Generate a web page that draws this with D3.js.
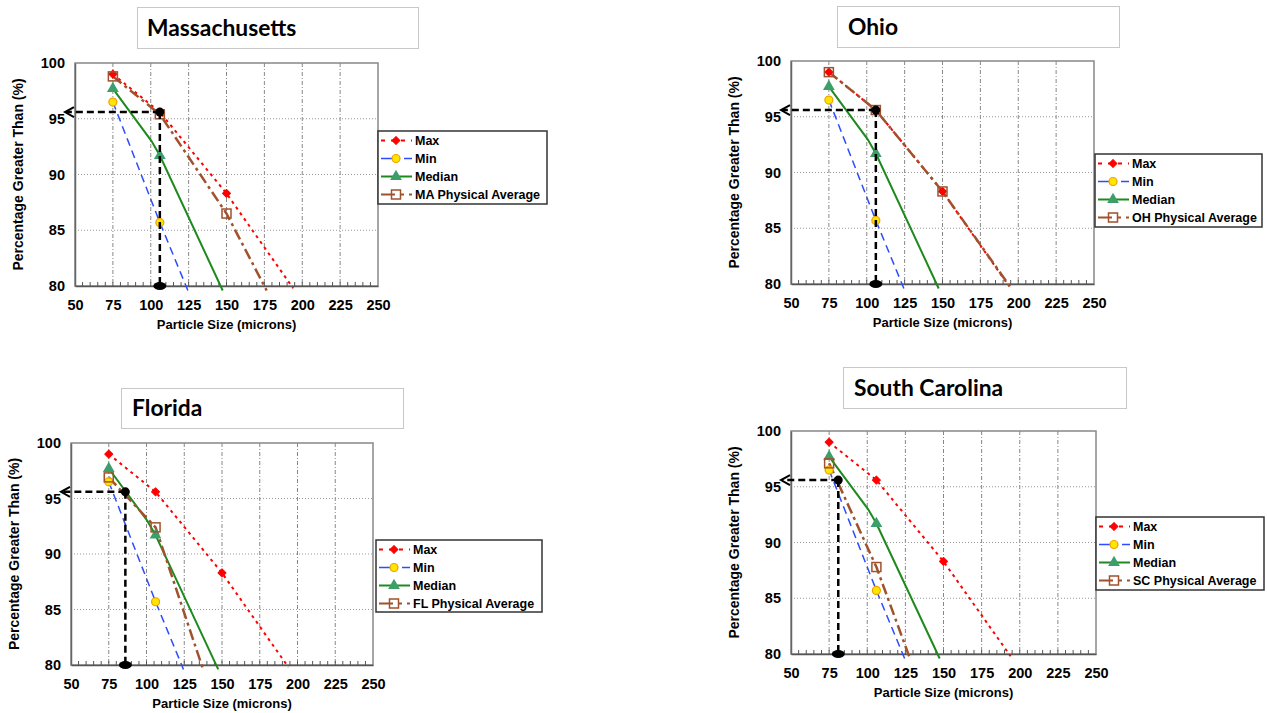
<!DOCTYPE html>
<html><head><meta charset="utf-8">
<script src="https://cdn.jsdelivr.net/npm/d3@7"></script>
<style>body{margin:0;background:#fff}svg{display:block}</style>
</head><body><svg id="c" width="1267" height="713"></svg>
<script>
// ---- data ----
const xTicks = [50, 75, 100, 125, 150, 175, 200, 225, 250];
const yTicks = [80, 85, 90, 95, 100];
const xLabel = "Particle Size (microns)";
const yLabel = "Percentage Greater Than (%)";
const seriesNames = ["Max", "Min", "Median"];

const maxX = [75, 106, 150, 194];
const maxY = [99.0, 95.6, 88.3, 79.8];
const maxMarks = [0, 1, 2];
const minX = [75, 106, 124.5];
const minY = [96.5, 85.7, 79.6];
const minMarks = [0, 1];
const medX = [75, 100.5, 106, 147.5];
const medY = [97.7, 93.0, 91.7, 79.6];
const medMarks = [0, 2];

const states = ["Massachusetts", "Ohio", "Florida", "South Carolina"];
const avgNames = ["MA Physical Average", "OH Physical Average", "FL Physical Average", "SC Physical Average"];
const avgX = [[75, 106, 150, 176.5], [75, 106, 150, 196], [75, 106, 137.5], [75, 106, 128]];
const avgY = [[98.8, 95.4, 86.5, 79.6], [99.0, 95.6, 88.3, 79.5], [96.9, 92.4, 79.6], [97.1, 87.8, 79.6]];
const avgMarks = [[0, 1, 2], [0, 1, 2], [0, 1], [0, 1]];
const targetX = [106, 106, 86, 81];
const targetY = [95.6, 95.6, 95.6, 95.6];

// ---- layout ----
const plots = [
  {l: 75, t: 63, r: 378, b: 286},
  {l: 791, t: 61, r: 1094, b: 284},
  {l: 71, t: 443, r: 373, b: 665},
  {l: 791, t: 431, r: 1096, b: 654}
];
const titleBoxes = [
  {x: 137, y: 7, w: 281, h: 41, tx: 147},
  {x: 837, y: 6, w: 282, h: 41, tx: 848},
  {x: 121, y: 388, w: 282, h: 40, tx: 132},
  {x: 843, y: 367, w: 283, h: 41, tx: 854}
];
const legends = [
  {x: 378, y: 131, w: 169, h: 73},
  {x: 1095, y: 154, w: 167, h: 73},
  {x: 376, y: 540, w: 166, h: 72},
  {x: 1096, y: 517, w: 168, h: 73}
];

const svg = d3.select("#c");
const FONT = "'Liberation Sans', Arial, sans-serif";

const styles = {
  max: {color: "#ff0000", dash: "3,4", w: 2},
  min: {color: "#2b4dff", dash: "8,5", w: 1.5},
  med: {color: "#1e8a1e", dash: null, w: 2},
  avg: {color: "#a0522d", dash: "11,4,3,4", w: 2.5}
};

function marker(g, type, x, y) {
  if (type === "max") {
    g.append("path").attr("d", d3.symbol(d3.symbolSquare, 32)()).attr("transform", `translate(${x},${y}) rotate(45)`)
      .attr("fill", "#ff0000").attr("stroke", "#ff0000").attr("stroke-width", 1).attr("stroke-linejoin", "round");
  } else if (type === "min") {
    g.append("circle").attr("cx", x).attr("cy", y).attr("r", 4).attr("fill", "#ffe600").attr("stroke", "#f0a000").attr("stroke-width", 1.2);
  } else if (type === "med") {
    g.append("path").attr("d", d3.symbol(d3.symbolTriangle, 60)()).attr("transform", `translate(${x},${y})`)
      .attr("fill", "#3c9e6a");
  } else {
    g.append("rect").attr("x", x - 4.5).attr("y", y - 4.5).attr("width", 9).attr("height", 9)
      .attr("fill", "none").attr("stroke", "#a0522d").attr("stroke-width", 1.5);
  }
}

states.forEach((st, i) => {
  const p = plots[i];
  const g = svg.append("g");
  const x = d3.scaleLinear().domain([50, 250]).range([p.l, p.r]);
  const y = d3.scaleLinear().domain([80, 100]).range([p.b, p.t]);

  // title box
  const tb = titleBoxes[i];
  g.append("rect").attr("x", tb.x + 0.5).attr("y", tb.y + 0.5).attr("width", tb.w).attr("height", tb.h)
    .attr("fill", "#fff").attr("stroke", "#c8c8c8").attr("stroke-width", 1);
  g.append("text").attr("x", tb.tx).attr("y", tb.y + tb.h / 2 + 8).text(st)
    .attr("font-family", "Lato, 'Open Sans', sans-serif").attr("font-weight", "bold").attr("font-size", 22.8).attr("fill", "#000");

  // gridlines
  xTicks.slice(1, -1).forEach(v => {
    g.append("line").attr("x1", x(v)).attr("x2", x(v)).attr("y1", p.t).attr("y2", p.b)
      .attr("stroke", "#888").attr("stroke-width", 1).attr("stroke-dasharray", "4,2,1,2");
  });
  yTicks.slice(1, -1).forEach(v => {
    g.append("line").attr("x1", p.l).attr("x2", p.r).attr("y1", y(v)).attr("y2", y(v))
      .attr("stroke", "#999").attr("stroke-width", 1).attr("stroke-dasharray", "1,2");
  });
  // frame
  g.append("rect").attr("x", p.l).attr("y", p.t).attr("width", p.r - p.l).attr("height", p.b - p.t)
    .attr("fill", "none").attr("stroke", "#888").attr("stroke-width", 1.5);

  // axes
  const xa = g.append("g").attr("transform", `translate(0,${p.b})`)
    .call(d3.axisBottom(x).tickValues(xTicks).tickSize(0).tickPadding(14));
  xa.select(".domain").attr("stroke", "#555").attr("stroke-width", 1.5);
  xa.selectAll("text").attr("font-family", FONT).attr("font-weight", "bold").attr("font-size", 14.5).attr("fill", "#000");
  // minor ticks
  const minor = d3.range(55, 250, 5);
  g.selectAll(null).data(minor).enter().append("line")
    .attr("x1", d => x(d)).attr("x2", d => x(d)).attr("y1", p.b).attr("y2", p.b - 4)
    .attr("stroke", "#555").attr("stroke-width", 1);

  const ya = g.append("g").attr("transform", `translate(${p.l},0)`)
    .call(d3.axisLeft(y).tickValues(yTicks).tickSize(0).tickPadding(10));
  ya.select(".domain").attr("stroke", "#666").attr("stroke-width", 1.5);
  ya.selectAll("text").attr("font-family", FONT).attr("font-weight", "bold").attr("font-size", 14.5).attr("fill", "#000");

  g.append("text").attr("x", (p.l + p.r) / 2).attr("y", p.b + 43).attr("text-anchor", "middle").text(xLabel)
    .attr("font-family", FONT).attr("font-weight", "bold").attr("font-size", 13);
  g.append("text").attr("transform", `translate(${p.l - 57},${(p.t + p.b) / 2}) rotate(-90)`).attr("text-anchor", "middle")
    .text(yLabel).attr("font-family", FONT).attr("font-weight", "bold").attr("font-size", 14).attr("dy", "0.35em");

  // series
  const series = [
    {k: "max", xs: maxX, ys: maxY, m: maxMarks},
    {k: "min", xs: minX, ys: minY, m: minMarks},
    {k: "med", xs: medX, ys: medY, m: medMarks},
    {k: "avg", xs: avgX[i], ys: avgY[i], m: avgMarks[i]}
  ];
  const line = d3.line().x(d => x(d[0])).y(d => y(d[1]));
  series.forEach(s => {
    const st = styles[s.k];
    const pts = s.xs.map((v, j) => [v, s.ys[j]]);
    g.append("path").attr("d", line(pts)).attr("fill", "none").attr("stroke", st.color)
      .attr("stroke-width", st.w).attr("stroke-dasharray", st.dash);
  });
  series.forEach(s => {
    s.m.forEach(j => marker(g, s.k, x(s.xs[j]), y(s.ys[j])));
  });

  // target indicator
  const tx = x(targetX[i]), ty = y(targetY[i]);
  g.append("line").attr("x1", tx).attr("x2", p.l - 9).attr("y1", ty).attr("y2", ty)
    .attr("stroke", "#000").attr("stroke-width", 2.5).attr("stroke-dasharray", "7,4");
  g.append("path").attr("d", `M${p.l - 1},${ty - 5} L${p.l - 10},${ty} L${p.l - 1},${ty + 5}`)
    .attr("fill", "none").attr("stroke", "#000").attr("stroke-width", 2);
  g.append("line").attr("x1", tx).attr("x2", tx).attr("y1", ty).attr("y2", y(80))
    .attr("stroke", "#000").attr("stroke-width", 2.5).attr("stroke-dasharray", "7,4");
  g.append("circle").attr("cx", tx).attr("cy", ty).attr("r", 4.5).attr("fill", "#000");
  g.append("ellipse").attr("cx", tx).attr("cy", y(80)).attr("rx", 6.5).attr("ry", 4).attr("fill", "#000");

  // legend
  const L = legends[i];
  g.append("rect").attr("x", L.x).attr("y", L.y).attr("width", L.w).attr("height", L.h)
    .attr("fill", "#fff").attr("stroke", "#333").attr("stroke-width", 1.5);
  const names = seriesNames.concat([avgNames[i]]);
  ["max", "min", "med", "avg"].forEach((k, j) => {
    const cy = L.y + 9.5 + j * 18;
    const st = styles[k];
    const sx0 = L.x + 3, sx1 = L.x + 34, mx = L.x + 18;
    g.append("line").attr("x1", sx0).attr("x2", sx1).attr("y1", cy).attr("y2", cy)
      .attr("stroke", st.color).attr("stroke-width", k === "avg" ? 2 : st.w)
      .attr("stroke-dasharray", k === "max" ? "4,6" : k === "min" ? "14,4,1,4" : k === "avg" ? "14,5,4,5" : null);
    marker(g, k, mx, cy);
    g.append("text").attr("x", L.x + 37).attr("y", cy).attr("dy", "0.36em").text(names[j])
      .attr("font-family", FONT).attr("font-weight", "bold").attr("font-size", 12.5).attr("fill", "#000");
  });
});
</script></body></html>
